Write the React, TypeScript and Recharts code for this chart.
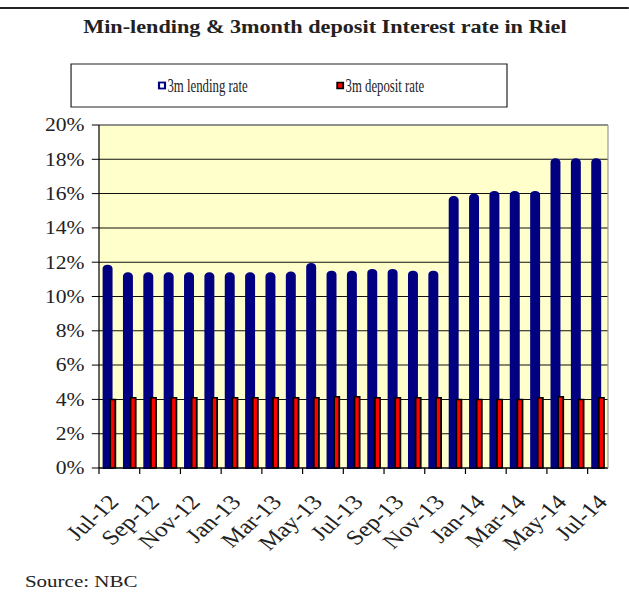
import { BarChart, Bar, XAxis, YAxis, CartesianGrid, ReferenceLine } from 'recharts';

const months = [
  'Jul-12', 'Aug-12', 'Sep-12', 'Oct-12', 'Nov-12', 'Dec-12',
  'Jan-13', 'Feb-13', 'Mar-13', 'Apr-13', 'May-13', 'Jun-13',
  'Jul-13', 'Aug-13', 'Sep-13', 'Oct-13', 'Nov-13', 'Dec-13',
  'Jan-14', 'Feb-14', 'Mar-14', 'Apr-14', 'May-14', 'Jun-14', 'Jul-14',
];

const lendingRate = [
  11.8, 11.35, 11.35, 11.35, 11.35, 11.35, 11.35, 11.35, 11.35, 11.4, 11.9, 11.45,
  11.45, 11.55, 11.55, 11.45, 11.45, 15.8, 15.95, 16.1, 16.1, 16.1, 18, 18, 18,
];

const depositRate = [
  4.0, 4.1, 4.1, 4.1, 4.1, 4.1, 4.1, 4.1, 4.1, 4.1, 4.1, 4.15,
  4.15, 4.1, 4.1, 4.1, 4.1, 4.0, 4.0, 4.0, 4.0, 4.1, 4.15, 4.0, 4.1,
];

const yTicks = [0, 2, 4, 6, 8, 10, 12, 14, 16, 18, 20];

const data = months.map((m, i) => ({ month: m, lending: lendingRate[i], deposit: depositRate[i] }));

// the reference is horizontally stretched, so draw narrower and scale up
const SX = 1.2;
const W = 629 / SX;
const H = 608;
const PLOT_LEFT = 82.5;
const PLOT_RIGHT_MARGIN = 17.5;
const BAND = (W - PLOT_LEFT - PLOT_RIGHT_MARGIN) / months.length;
const FONT = 'Liberation Serif';

const XTick = (props: any) => {
  const { x, y, payload, index } = props;
  if (index % 2 !== 0) return <g />;
  const left = x - BAND / 2;
  const tx = x + 9;
  const ty = y + 35;
  return (
    <g>
      <line x1={left} x2={left} y1={y} y2={y + 6} stroke="#000" />
      <text
        x={tx}
        y={ty}
        transform={`rotate(-47 ${tx} ${ty})`}
        textAnchor="end"
        fontSize={21}
        style={{ fontFamily: FONT }}
        fill="#222"
      >
        {payload.value}
      </text>
    </g>
  );
};

export default function App() {
  return (
    <div style={{ position: 'absolute', left: 0, top: 0, width: 629, height: 608, overflow: 'hidden', background: '#fff', fontFamily: FONT }}>
      <div style={{ position: 'relative', width: W, height: H, transform: `scaleX(${SX})`, transformOrigin: '0 0' }}>
        <BarChart
          width={W}
          height={H}
          data={data}
          margin={{ top: 125, right: PLOT_RIGHT_MARGIN - 1, bottom: 0, left: 0 }}
          barGap={-1}
          style={{ fontFamily: FONT }}
        >
          <CartesianGrid vertical={false} stroke="#111" fill="#FFFFCC" fillOpacity={1} />
          <XAxis
            dataKey="month"
            interval={0}
            height={140}
            tickLine={false}
            tickSize={0}
            tickMargin={0}
            axisLine={{ stroke: '#000' }}
            tick={<XTick />}
          />
          <YAxis
            domain={[0, 20]}
            ticks={yTicks}
            tickFormatter={(v) => `${v}%`}
            width={PLOT_LEFT}
            tickSize={6}
            tickMargin={6}
            axisLine={{ stroke: '#000' }}
            tickLine={{ stroke: '#000' }}
            tick={{ fill: '#222', fontSize: 18, style: { fontFamily: FONT } }}
          />
          <YAxis
            yAxisId="right"
            orientation="right"
            domain={[0, 20]}
            width={1}
            tick={false}
            tickLine={false}
            axisLine={{ stroke: '#999' }}
          />
          <ReferenceLine y={20} stroke="#999" />
          <Bar
            dataKey="lending"
            fill="#000080"
            stroke="#000080"
            strokeWidth={2}
            barSize={6.3}
            radius={[3, 3, 0, 0]}
            isAnimationActive={false}
          />
          <Bar
            dataKey="deposit"
            fill="#FF0000"
            stroke="#000"
            strokeWidth={1.5}
            barSize={4.3}
            isAnimationActive={false}
          />
        </BarChart>
        <svg width={W} height={H} style={{ position: 'absolute', left: 0, top: 0, pointerEvents: 'none', fontFamily: FONT }}>
          <line x1={0} x2={W} y1={8} y2={8} stroke="#222" strokeWidth={2} />
          <text x={270.8} y={33.3} textAnchor="middle" fontSize={18.5} fontWeight="bold" fill="#222">
            Min-lending &amp; 3month deposit Interest rate in Riel
          </text>
          <rect x={59.2} y={64} width={363.3} height={43} fill="#fff" stroke="#222" strokeWidth={1} />
          <rect x={132.5} y={82.5} width={5} height={6} fill="#fff" stroke="#000080" strokeWidth={1.8} />
          <text x={139.5} y={92} fontSize={18} fill="#222" textLength={67} lengthAdjust="spacingAndGlyphs">
            3m lending rate
          </text>
          <rect x={281} y={82.5} width={5} height={6} fill="#FF0000" stroke="#000" strokeWidth={1.5} />
          <text x={288} y={92} fontSize={18} fill="#222" textLength={65.5} lengthAdjust="spacingAndGlyphs">
            3m deposit rate
          </text>
          <text x={20.8} y={587} fontSize={17.5} fill="#222">
            Source: NBC
          </text>
        </svg>
      </div>
    </div>
  );
}
